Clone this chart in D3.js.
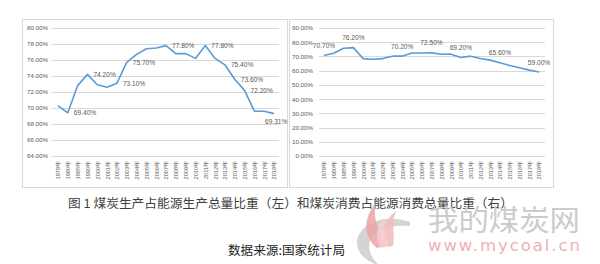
<!DOCTYPE html>
<html>
<head>
<meta charset="utf-8">
<script src="https://cdn.jsdelivr.net/npm/d3@7"></script>
<style>
  body { margin: 0; background: #fff; }
  svg { display: block; font-family: "Noto Sans CJK SC", "DejaVu Sans", sans-serif; }
</style>
</head>
<body>
<div id="chart"></div>
<script>
const years = ['1978年', '1980年', '1985年', '1990年', '2000年', '2001年', '2002年', '2003年', '2004年', '2005年',
  '2006年', '2007年', '2008年', '2009年', '2010年', '2011年', '2012年', '2013年', '2014年', '2015年',
  '2016年', '2017年', '2018年'];

// coal share of energy production (left)
const productionShare = [70.3, 69.4, 72.8, 74.2, 72.9, 72.6, 73.1, 75.7, 76.7, 77.4,
  77.5, 77.8, 76.8, 76.8, 76.2, 77.8, 76.2, 75.4, 73.6, 72.2, 69.6, 69.6, 69.3];
// coal share of energy consumption (right)
const consumptionShare = [70.7, 72.2, 75.8, 76.2, 68.5, 68.0, 68.5, 70.2, 70.2, 72.4,
  72.4, 72.5, 71.5, 71.6, 69.2, 70.2, 68.5, 67.4, 65.6, 63.7, 62.0, 60.4, 59.0];

const leftTicks = [64, 66, 68, 70, 72, 74, 76, 78, 80];
const rightTicks = [0, 10, 20, 30, 40, 50, 60, 70, 80, 90];

// which points carry a value label
const leftLabels = [
  { i: 1, text: '69.40%' },
  { i: 3, text: '74.20%' },
  { i: 6, text: '73.10%' },
  { i: 7, text: '75.70%' },
  { i: 11, text: '77.80%' },
  { i: 15, text: '77.80%' },
  { i: 17, text: '75.40%' },
  { i: 18, text: '73.60%' },
  { i: 19, text: '72.20%' },
  { i: 22, text: '69.31%', dx: -9, dy: 10 }
];
const rightLabels = [
  { i: 0, text: '70.70%' },
  { i: 3, text: '76.20%' },
  { i: 8, text: '70.20%' },
  { i: 11, text: '72.50%' },
  { i: 14, text: '69.20%' },
  { i: 18, text: '65.60%' },
  { i: 22, text: '59.00%' }
];

const width = 600, height = 264;
const svg = d3.select('#chart').append('svg')
  .attr('width', width)
  .attr('height', height);

const lineColor = '#5b9bd5';
const gridColor = '#d9d9d9';
const textColor = '#595959';

function drawPanel(opt) {
  const g = svg.append('g');

  g.append('rect')
    .attr('x', opt.box[0] + 0.5).attr('y', opt.box[1] + 0.5)
    .attr('width', opt.box[2]).attr('height', opt.box[3])
    .attr('fill', '#fff').attr('stroke', '#d9d9d9');

  const x = d3.scalePoint().domain(years).range(opt.xRange).padding(0);
  const y = d3.scaleLinear().domain(opt.domain).range(opt.yRange);

  // gridlines
  g.append('g').selectAll('line')
    .data(opt.ticks)
    .join('line')
    .attr('x1', opt.gridX[0]).attr('x2', opt.gridX[1])
    .attr('y1', d => Math.round(y(d)) + 0.5).attr('y2', d => Math.round(y(d)) + 0.5)
    .attr('stroke', gridColor).attr('stroke-width', 1);

  // y axis
  const yAxis = d3.axisLeft(y).tickValues(opt.ticks).tickSize(0).tickPadding(0)
    .tickFormat(d => d.toFixed(2) + '%');
  g.append('g')
    .attr('transform', `translate(${opt.yLabelX},0)`)
    .call(yAxis)
    .call(s => s.select('.domain').remove())
    .call(s => s.selectAll('text').attr('fill', textColor).attr('font-size', 6.2)
      .attr('font-family', 'Liberation Sans, sans-serif'));

  // x axis labels (rotated)
  const xAxis = d3.axisBottom(x).tickSize(0).tickPadding(0);
  g.append('g')
    .attr('transform', `translate(0,${opt.yRange[0] + 5})`)
    .call(xAxis)
    .call(s => s.select('.domain').remove())
    .call(s => s.selectAll('text')
      .attr('fill', textColor).attr('font-size', 5.6)
      .attr('transform', 'rotate(-90)')
      .attr('text-anchor', 'end')
      .attr('dx', 0).attr('dy', '0.35em')
      .attr('x', 0).attr('y', 0));

  const line = d3.line().x((d, i) => x(years[i])).y(d => y(d));
  g.append('path')
    .datum(opt.values)
    .attr('fill', 'none')
    .attr('stroke', lineColor)
    .attr('stroke-width', 1.6)
    .attr('stroke-linejoin', 'round')
    .attr('d', line);

  return { g, x, y };
}

const left = drawPanel({
  box: [22, 19, 265, 168],
  domain: [64, 80], ticks: leftTicks,
  xRange: [58, 274], yRange: [156, 28],
  gridX: [52, 279], yLabelX: 48,
  values: productionShare
});

const right = drawPanel({
  box: [289, 19, 264, 168],
  domain: [0, 90], ticks: rightTicks,
  xRange: [324, 539], yRange: [156, 28],
  gridX: [319, 545], yLabelX: 313,
  values: consumptionShare
});

// value labels, drawn last so no panel covers them
svg.append('g').selectAll('text')
  .data(leftLabels)
  .join('text')
  .attr('x', d => left.x(years[d.i]) + (d.dx !== undefined ? d.dx : 6))
  .attr('y', d => left.y(productionShare[d.i]) + (d.dy !== undefined ? d.dy : 2.5))
  .attr('font-size', 6.6)
  .attr('font-family', 'Liberation Sans, sans-serif')
  .attr('fill', textColor)
  .text(d => d.text);

svg.append('g').selectAll('text')
  .data(rightLabels)
  .join('text')
  .attr('x', d => right.x(years[d.i]))
  .attr('y', d => right.y(consumptionShare[d.i]) - 7.5)
  .attr('text-anchor', 'middle')
  .attr('font-size', 6.6)
  .attr('font-family', 'Liberation Sans, sans-serif')
  .attr('fill', textColor)
  .text(d => d.text);

// caption
svg.append('text')
  .attr('x', 68).attr('y', 207.5)
  .attr('font-size', 12.4)
  .attr('fill', '#404040')
  .attr('textLength', 445)
  .attr('lengthAdjust', 'spacingAndGlyphs')
  .text('图 1  煤炭生产占能源生产总量比重（左）和煤炭消费占能源消费总量比重（右）');

// watermark
const wm = svg.append('g');
wm.append('path')
  .attr('d', 'M410,222 C382,212 356,226 357,244 C358,255 368,262 380,266 C368,256 365,242 376,233 C386,226 398,225 410,226 Z')
  .attr('fill', '#d4d4d4');
wm.append('path')
  .attr('d', 'M377,248 C362,236 364,216 376,203 C372,220 380,232 386,245 Z')
  .attr('fill', '#eaa3a3').attr('opacity', 0.85);
wm.append('path')
  .attr('d', 'M388,247 C380,233 384,220 396,211 C390,226 396,236 393,246 Z')
  .attr('fill', '#f0baba').attr('opacity', 0.85);
wm.append('path')
  .attr('d', 'M381,248 C374,238 376,226 385,218 C382,230 388,238 387,247 Z')
  .attr('fill', '#f5cccc').attr('opacity', 0.9);
wm.append('text')
  .attr('x', 428).attr('y', 231)
  .attr('font-size', 29)
  .attr('fill', '#cccccc')
  .attr('textLength', 152)
  .attr('lengthAdjust', 'spacingAndGlyphs')
  .attr('font-family', 'Noto Sans CJK SC, sans-serif')
  .text('我的煤炭网');
wm.append('text')
  .attr('x', 428).attr('y', 251)
  .attr('font-size', 16.5)
  .attr('fill', '#f0b0b0')
  .attr('textLength', 152)
  .attr('lengthAdjust', 'spacing')
  .attr('font-family', 'DejaVu Sans, sans-serif')
  .text('www.mycoal.cn');

// source
svg.append('text')
  .attr('x', 228).attr('y', 255)
  .attr('font-size', 12)
  .attr('fill', '#222')
  .attr('textLength', 117)
  .attr('lengthAdjust', 'spacingAndGlyphs')
  .text('数据来源:国家统计局');
</script>
</body>
</html>
